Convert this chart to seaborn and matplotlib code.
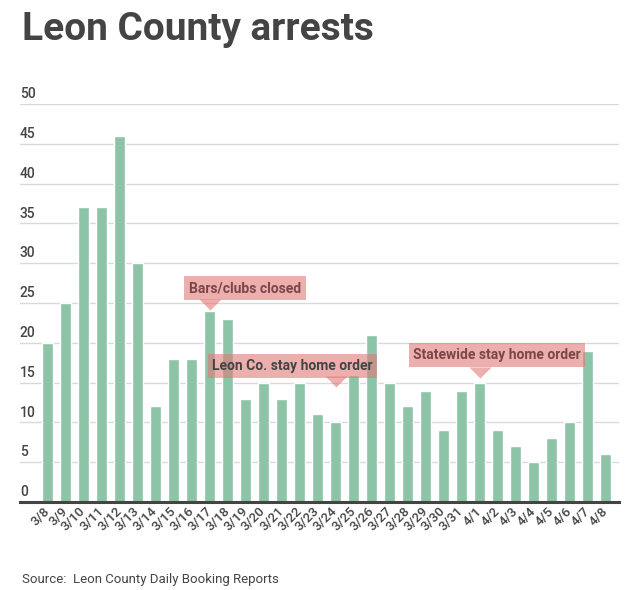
import matplotlib
matplotlib.use("Agg")
import matplotlib.pyplot as plt
import seaborn as sns
import pandas as pd
import matplotlib.transforms as mtransforms

dates = ["3/8", "3/9", "3/10", "3/11", "3/12", "3/13", "3/14", "3/15", "3/16", "3/17",
         "3/18", "3/19", "3/20", "3/21", "3/22", "3/23", "3/24", "3/25", "3/26", "3/27",
         "3/28", "3/29", "3/30", "3/31", "4/1", "4/2", "4/3", "4/4", "4/5", "4/6", "4/7", "4/8"]
arrests = [20, 25, 37, 37, 46, 30, 12, 18, 18, 24,
           23, 13, 15, 13, 15, 11, 10, 16, 21, 15,
           12, 14, 9, 14, 15, 9, 7, 5, 8, 10, 19, 6]
y_ticks = [0, 5, 10, 15, 20, 25, 30, 35, 40, 45, 50]

notes = ["Bars/clubs closed", "Leon Co. stay home order", "Statewide stay home order"]
note_dates = ["3/17", "3/24", "4/1"]

sns.set_theme(style="white")
plt.rcParams["font.family"] = ["Roboto", "DejaVu Sans"]

W, H = 631, 590
fig = plt.figure(figsize=(W / 100, H / 100), dpi=100)
ax = fig.add_axes([20 / W, (H - 502) / H, 599 / W, 398 / H])

df = pd.DataFrame({"date": dates, "arrests": arrests})
sns.barplot(data=df, x="date", y="arrests", color="#8dc3a7", saturation=1,
            width=0.61, ax=ax, zorder=2)

ax.set_xlim(-1.528, 31.75)
ax.set_ylim(0, 50)
ax.set_yticks(y_ticks)
ax.set_xlabel("")
ax.set_ylabel("")
ax.grid(axis="y", color="#d9d9d9", linewidth=1.0, zorder=0)
ax.set_axisbelow(True)
for s in ["top", "right", "left"]:
    ax.spines[s].set_visible(False)
ax.spines["bottom"].set_color("#444444")
ax.spines["bottom"].set_linewidth(2.2)
ax.spines["bottom"].set_zorder(3)

ax.tick_params(axis="y", length=0, pad=0, labelsize=10, labelcolor="#444444")
for lab in ax.get_yticklabels():
    lab.set_ha("left")
    lab.set_va("bottom")
    lab.set_fontweight(500)
ax.tick_params(axis="x", length=0, pad=5, labelsize=9.5, labelcolor="#444444")
for lab in ax.get_xticklabels():
    lab.set_rotation(45)
    lab.set_ha("right")
    lab.set_va("center")
    lab.set_rotation_mode("anchor")
    lab.set_fontweight(500)

offset = mtransforms.ScaledTranslation(0, 2 / 72, fig.dpi_scale_trans)
for lab in ax.get_yticklabels():
    lab.set_transform(lab.get_transform() + offset)

box_rgb = (0.886, 0.47, 0.47)
box_pos = [(10.97, 26.88), (13.61, 17.09), (24.97, 18.47)]
tip_off = [0.1, 4.4, 0.6]
text_cols = ["#7a4646", "#444444", "#7a4646"]
tri = [(-1, 1), (1, 1), (0, 0)]
for note, d, (bx, by), off, tc in zip(notes, note_dates, box_pos, tip_off, text_cols):
    i = dates.index(d)
    ty = arrests[i] + off
    ax.plot([i], [ty], marker=tri, markersize=16, color=box_rgb, alpha=0.6,
            markeredgewidth=0, linestyle="none", zorder=4, clip_on=False)
    ax.text(bx, by, note, ha="center", va="center", fontsize=10, fontweight="bold",
            color=tc, zorder=5,
            bbox=dict(boxstyle="square,pad=0.33", facecolor=box_rgb, alpha=0.6,
                      edgecolor="none"))

fig.text(22 / W, 1 - 29 / H, "Leon County arrests", fontsize=28, fontweight="bold",
         color="#444444", ha="left", va="center")
fig.text(22 / W, 1 - 579 / H, "Source:  Leon County Daily Booking Reports", fontsize=9.5,
         color="#444444", ha="left", va="center")

fig.savefig("out.png", dpi=100)
